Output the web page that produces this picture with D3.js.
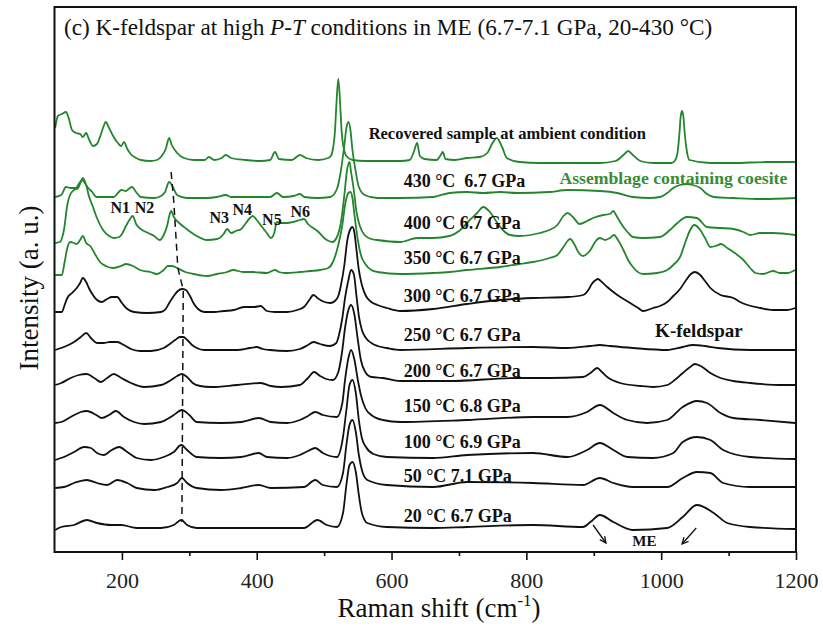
<!DOCTYPE html>
<html><head><meta charset="utf-8">
<script src="https://cdn.jsdelivr.net/npm/d3@7"></script>
<style>
body{margin:0;background:#fff;}
text{font-family:"Liberation Serif","Times New Roman",serif;}
</style></head><body>
<svg id="c" width="823" height="628"></svg>
<script>
// ---------- data (Raman shift cm-1, stacked intensity a.u.) ----------
const xTicks=[200,400,600,800,1000,1200];
const xMinorTicks=[300,500,700,900,1100];
const recovered=[[101,424],[105,436],[111,438],[117,440],[121,434],[126,422],[132,419],[138,418],[142,415],[147,419],[151,413],[157,406],[163,408],[169,418],[173,426],[176,430],[181,424],[187,416],[194,409],[199,406],[203,410],[208,403],[213,398],[221,394],[228,392],[242,391],[252,392],[259,396],[265,403],[270,414],[274,407],[282,399],[292,394],[307,392],[323,392],[329,395],[337,392],[348,394],[354,397],[362,394],[383,392],[405,391],[420,392],[427,400],[433,393],[452,392],[464,397],[473,394],[491,392],[506,394],[510,396],[513,403],[516,420],[518,445],[521,473],[524,445],[526,420],[529,404],[533,396],[542,392],[561,391],[587,391],[613,391],[627,392],[633,400],[638,409],[642,396],[649,393],[667,392],[673,397],[676,400],[680,393],[694,392],[712,394],[731,395],[742,399],[749,408],[756,414],[764,405],[771,394],[790,390],[820,389],[861,389],[909,389],[932,391],[944,397],[951,401],[958,397],[969,391],[988,389],[1015,389],[1020,391],[1024,398],[1027,418],[1029,436],[1031,441],[1033,435],[1035,418],[1038,401],[1042,392],[1073,389],[1107,389],[1157,390],[1199,390]];
const s430=[[101,355],[110,357],[117,365],[124,364],[132,364],[136,368],[141,372],[145,369],[150,364],[156,360],[162,355],[173,355],[188,355],[194,359],[199,362],[206,361],[210,363],[215,365],[221,360],[228,355],[248,354],[258,356],[264,360],[270,370],[274,367],[282,357],[296,354],[326,354],[341,355],[354,357],[362,355],[396,355],[420,355],[430,359],[439,355],[455,356],[464,358],[471,355],[490,354],[509,355],[519,363],[525,382],[530,407],[533,424],[536,430],[539,422],[542,402],[547,380],[551,366],[560,357],[579,354],[613,354],[661,355],[686,359],[712,360],[736,359],[761,360],[786,359],[834,360],[861,362],[909,361],[935,359],[958,355],[983,354],[998,355],[1009,359],[1018,364],[1028,367],[1038,368],[1047,367],[1058,364],[1068,358],[1078,355],[1107,354],[1147,353],[1199,354]];
const s400=[[101,309],[108,310],[114,322],[119,347],[123,357],[129,362],[135,364],[139,370],[142,374],[147,367],[151,356],[156,347],[163,334],[172,322],[181,316],[188,314],[196,315],[200,318],[206,326],[212,333],[216,336],[221,328],[228,323],[239,319],[248,316],[256,312],[262,317],[267,326],[271,338],[273,341],[277,335],[285,329],[296,323],[311,316],[326,312],[341,313],[351,318],[356,323],[362,319],[369,321],[377,323],[384,329],[390,334],[394,336],[400,332],[408,325],[415,319],[421,314],[426,319],[430,330],[435,329],[445,329],[454,330],[464,332],[470,333],[476,328],[490,321],[504,312],[512,310],[519,315],[525,330],[530,357],[534,382],[537.6,390],[540,380],[544,362],[548,340],[553,326],[560,317],[570,313],[579,312],[613,310],[638,314],[661,314],[686,316],[702,322],[716,332],[727,339],[736,345],[746,340],[756,330],[765,322],[776,317],[790,316],[820,319],[834,322],[846,327],[855,336],[861,339],[869,335],[879,328],[890,331],[899,334],[914,337],[924,338],[929,341],[933,337],[939,330],[950,320],[958,315],[973,314],[998,315],[1013,322],[1024,329],[1038,335],[1053,334],[1068,325],[1088,324],[1107,323],[1122,320],[1132,317],[1147,319],[1166,319],[1199,317]];
const s350=[[101,277],[111,277],[115,290],[119,304],[123,310],[129,309],[133,308],[138,312],[142,316],[147,309],[153,306],[160,298],[167.5,290],[176,286],[187,284],[199,286],[206,288],[216.5,286],[227,282],[242,280],[252,278],[262,282],[268,286],[274,286],[282,284],[294,280],[307,278],[326,276],[341,278],[356,280],[365,282],[380,280],[394,280],[415,279],[427,282],[433,280],[442,279],[464,280],[479,281],[494,282],[506,284],[513,290],[521,307],[527,327],[531,347],[536,359],[539,360],[542,354],[545,337],[550,312],[554.5,297],[561,288],[570,282],[579,280],[613,278],[661.5,279],[686,280],[712,282],[761,285],[790,288],[810,290],[834.5,294],[846,297],[855,305],[861,311],[865,313],[871,308],[877,300],[884,296],[895,302],[903,311],[909,314],[917,312],[924,314],[930,317],[936,312],[944,302],[951,292],[958,285],[973,278],[994,279],[1009,282],[1018,287],[1028,295],[1037,312],[1043,322],[1049,327],[1058,322],[1065,314],[1073,305],[1081,306],[1089,308],[1098,304],[1107,300],[1122,292],[1132,284],[1140,279],[1151,278],[1166,281],[1176,279],[1187,279],[1199,282]];
const s300=[[101,240],[111,240],[115,247],[119,254],[126,259],[133,264],[138,269],[142,274],[147,270],[151,264],[156,258],[163,252],[170,250],[178,253],[185,255],[193,255],[200,249],[208,243],[218,240],[237,239],[258,240],[265,243],[271,250],[277,256],[283,261],[289,263],[295,262],[301,256],[307,248],[313,243],[322,240],[337,240],[351,241],[366,242],[381,245],[396,245],[406,246],[415,241],[427,240],[445,240],[460,242],[470,245],[478,252],[484,257],[490,254],[497,251],[509,249],[516,251],[521,256],[525,267],[530,287],[534,310],[539,323],[542,325],[545,319],[548,302],[551.5,282],[556,267],[562,256],[570,250],[579,247],[593,244],[613,241],[661.5,243],[712,248],[761,252],[810,254],[861,255],[884,257],[892,262],[897,268],[903,272],[906,273],[912,270],[920,265],[935,257],[954,249],[966,244],[973,241],[988,244],[998,246],[1009,250],[1018,256],[1028,263],[1037,272],[1044,278],[1050,280],[1058,277],[1065,271],[1073,264],[1088,257],[1107,254],[1117,250],[1128,247],[1147,244],[1166,242],[1187,242],[1199,244]];
const s250=[[101,202],[114,205],[129,210],[139,215],[147,219],[154,214],[163,209],[173,209],[182,210],[193,210],[203,207],[213.5,203],[227,201],[243,201],[262,204],[271,208],[279,212],[286,215],[291,215],[297,212],[304,207],[311,204],[322,202],[371,202],[390,204],[400,205],[409,203],[420,202],[445,201],[464,203],[476,207],[484,210],[494,208],[509,206],[518,209],[522,217],[527,234],[531,254],[536,272],[540,282],[544,278],[548,256],[551.5,236],[556,222],[562,214],[570,209],[579,206],[593,204],[613,202],[712,204],[810,205],[861,204],[895,206],[909,207],[924,206],[958,204],[1009,202],[1032,205],[1047,207],[1065,206],[1084,204],[1132,202],[1199,202]];
const s200=[[101,167],[110,169],[124,174],[136,177],[148,178],[159,174],[169,170],[178,174],[188,178],[199,174],[213.5,169],[233,165],[258,167],[273,172],[282,176],[289,178],[296.6,175],[305,169],[316,166],[332,165],[371,167],[406,169],[421,166],[436,165],[464,167],[476,174],[485,180],[494,176],[503,173],[513,172],[521,180],[527,202],[531,224],[536,242],[540,247],[545,237],[550,212],[554.5,192],[561,180],[570,175],[587,174],[613,171],[686,171],[786,174],[834.5,174],[884,175],[895,179],[905,184],[912,180],[920,175],[939,169],[969,166],[988,165],[1009,167],[1022,173],[1032,179],[1043,185],[1050,188],[1061,185],[1073,179],[1088,174],[1107,171],[1132,169],[1181,167],[1199,167]];
const s150=[[101,129],[110,130],[124,135],[139,140],[148,141],[162,137],[170,134],[181,137],[191,141],[203,135],[218,130],[233,128],[258,130],[277,137],[289,142],[300,137],[311,130],[347,129],[377,130],[403,134],[421,130],[445,129],[464,132],[476,136],[487,140],[498,137],[519,135],[527,149],[531,172],[536,194],[540,202],[545,192],[550,172],[554.5,157],[561,144],[570,137],[587,132],[613,130],[712,132],[810,135],[861,135],[890,140],[909,147],[929,139],[950,132],[979,129],[1009,132],[1032,145],[1053,151],[1068,149],[1088,139],[1107,134],[1147,132],[1199,129]];
const s100=[[101,92],[114,95],[129,100],[144,105],[154,104],[163,99],[173,97],[185,102],[196,105],[208,100],[222,94],[243,92],[262,95],[277,100],[288,107],[296.6,102],[311,95],[347,94],[377,95],[403,99],[415,95],[445,94],[464,97],[476,101],[487,104],[498,99],[519,95],[528,115],[533,142],[537.6,167],[542,172],[547,159],[551.5,132],[556,114],[562,105],[573,98],[593,95],[661.5,94],[712,97],[810,99],[861,95],[890,102],[909,109],[929,102],[950,95],[988,94],[1018,99],[1032,110],[1053,115],[1073,112],[1092,102],[1132,95],[1199,93]];
const s50=[[101,64],[114,65],[129,69],[148,72],[163,69],[178,67],[193,72],[208,69],[222,64],[248,62],[267,65],[282,69],[289,74],[296.6,69],[311,64],[347,62],[377,64],[403,67],[421,64],[470,65],[487,72],[498,67],[519,65],[528,79],[533,107],[537.6,127],[542,132],[547,120],[551.5,97],[556,82],[564,72],[593,67],[661.5,65],[712,70],[810,69],[884,67],[909,74],[929,69],[958,65],[1009,65],[1032,74],[1053,80],[1073,79],[1092,69],[1132,65],[1199,65]];
const s20=[[101,22],[110,25],[129,27],[148,32],[163,29],[184,27],[199,27],[222,24],[258,24],[277,27],[288,32],[296.6,27],[311,24],[396,24],[470,24],[490,32],[504,27],[519,25],[528,39],[533,67],[537.6,87],[542,90],[547,80],[551.5,57],[556,39],[564,29],[593,25],[661.5,24],[712,25],[810,27],[884,25],[895,30],[909,37],[929,30],[958,22],[1009,24],[1032,35],[1053,47],[1078,39],[1098,29],[1132,25],[1199,23]];
const seriesData=[recovered,s430,s400,s350,s300,s250,s200,s150,s100,s50,s20];
const seriesLabels=["Recovered sample at ambient condition","430 °C  6.7 GPa","400 °C 6.7 GPa","350 °C 6.7 GPa","300 °C 6.7 GPa","250 °C 6.7 GPa","200 °C 6.7 GPa","150 °C 6.8 GPa","100 °C 6.9 GPa","50 °C 7.1 GPa","20 °C 6.7 GPa"];
const seriesGroup=["coesite","coesite","coesite","coesite","kfs","kfs","kfs","kfs","kfs","kfs","kfs"];
const modeLabels=["N1","N2","N3","N4","N5","N6"];
const modeShifts=[[183,339],[219,339],[330,329],[364,337],[408,327],[450,335]];
const dashedGuide=[[273,380],[277,350],[283,284],[291,262],[290,150],[289,30]];

// ---------- layout ----------
const svg=d3.select("#c");
const x=d3.scaleLinear().domain([100,1200]).range([54.5,796]);
const y=d3.scaleLinear().domain([0,545]).range([552,7]);
const GREEN="#24862c", BLACK="#111";

svg.append("rect").attr("width",823).attr("height",628).attr("fill","#fff");
svg.append("defs").append("clipPath").attr("id","pa").append("rect")
  .attr("x",54.5).attr("y",7).attr("width",741.5).attr("height",545);

const line=d3.line().x(d=>x(d[0])).y(d=>y(d[1])).curve(d3.curveMonotoneX);
const gl=svg.append("g").attr("clip-path","url(#pa)");
seriesData.forEach((d,i)=>{
  gl.append("path").datum(d).attr("d",line).attr("fill","none")
    .attr("stroke",seriesGroup[i]==="coesite"?GREEN:BLACK)
    .attr("stroke-width",1.8).attr("stroke-linejoin","round");
});
// dashed guide
gl.append("path").datum(dashedGuide).attr("d",d3.line().x(d=>x(d[0])).y(d=>y(d[1])))
  .attr("fill","none").attr("stroke",BLACK).attr("stroke-width",1.5).attr("stroke-dasharray","7,5");

// axes
const ax=svg.append("g").attr("transform","translate(0,552)")
  .call(d3.axisBottom(x).tickValues(xTicks).tickSize(8).tickPadding(12).tickFormat(d3.format("d")));
ax.select(".domain").remove();
ax.selectAll("line").attr("stroke",BLACK).attr("stroke-width",1.6);
ax.selectAll("text").attr("font-family","'Liberation Serif','Times New Roman',serif").attr("font-size",22).attr("fill","#222");
const axm=svg.append("g").attr("transform","translate(0,552)")
  .call(d3.axisBottom(x).tickValues(xMinorTicks).tickSize(4).tickFormat(""));
axm.select(".domain").remove();
axm.selectAll("line").attr("stroke",BLACK).attr("stroke-width",1.6);

svg.append("rect").attr("x",54.5).attr("y",7).attr("width",741.5).attr("height",545)
  .attr("fill","none").attr("stroke",BLACK).attr("stroke-width",2);

// series labels
const labelY=[413,365,323,288,250,211,175,140,104,70,30];
const lab=svg.append("g").attr("font-weight","bold").attr("fill",BLACK);
seriesLabels.forEach((t,i)=>{
  lab.append("text").attr("x",i===0?x(566):x(618)).attr("y",y(labelY[i]))
    .attr("xml:space","preserve").style("white-space","pre")
    .attr("font-size",i===0?16.5:18).text(t);
});
svg.append("text").attr("x",x(849)).attr("y",y(368)).attr("font-weight","bold")
  .attr("font-size",17.7).attr("fill","#378c37").text("Assemblage containing coesite");
svg.append("text").attr("x",x(991)).attr("y",y(215)).attr("font-weight","bold")
  .attr("font-size",19).attr("fill",BLACK).text("K-feldspar");
modeLabels.forEach((t,i)=>{
  svg.append("text").attr("x",x(modeShifts[i][0])).attr("y",y(modeShifts[i][1]))
    .attr("font-weight","bold").attr("font-size",16).attr("fill",BLACK).text(t);
});

// ME arrows
const arrows=[[[899,27],[918,9]],[[1052,24],[1031,8]]];
arrows.forEach(a=>{
  const x1=x(a[0][0]),y1=y(a[0][1]),x2=x(a[1][0]),y2=y(a[1][1]);
  svg.append("line").attr("x1",x1).attr("y1",y1).attr("x2",x2).attr("y2",y2)
    .attr("stroke",BLACK).attr("stroke-width",1.3);
  const ang=Math.atan2(y2-y1,x2-x1), L=7, s=0.45;
  const p1=[x2-L*Math.cos(ang-s),y2-L*Math.sin(ang-s)], p2=[x2-L*Math.cos(ang+s),y2-L*Math.sin(ang+s)];
  svg.append("path").attr("d",`M${p1}L${x2},${y2}L${p2}`).attr("fill","none")
    .attr("stroke",BLACK).attr("stroke-width",1.3);
});
svg.append("text").attr("x",x(975)).attr("y",546).attr("text-anchor","middle")
  .attr("font-weight","bold").attr("font-size",15).attr("fill",BLACK).text("ME");

// title
const ti=svg.append("text").attr("x",64).attr("y",35).attr("font-size",23.2).attr("fill","#111");
ti.append("tspan").text("(c) K-feldspar at high ");
ti.append("tspan").attr("font-style","italic").text("P-T");
ti.append("tspan").text(" conditions in ME (6.7-7.1 GPa, 20-430 °C)");

// axis titles
const xt=svg.append("text").attr("x",439).attr("y",617).attr("text-anchor","middle")
  .attr("font-size",27).attr("fill","#111");
xt.append("tspan").text("Raman shift (cm");
xt.append("tspan").attr("font-size",17).attr("dy",-11).text("-1");
xt.append("tspan").attr("dy",11).text(")");
svg.append("text").attr("transform","translate(38,288) rotate(-90)").attr("text-anchor","middle")
  .attr("font-size",27).attr("fill","#111").text("Intensity (a. u.)");
</script>
</body></html>
